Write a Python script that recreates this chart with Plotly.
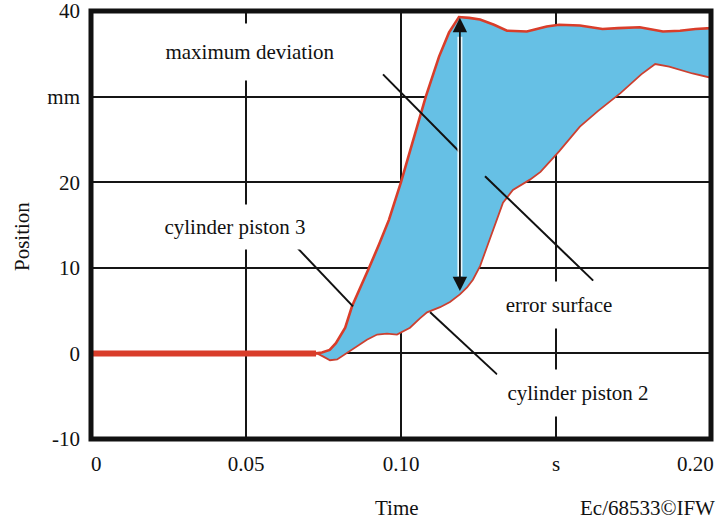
import plotly.graph_objects as go

# ---- data (time in s, position in mm) ----
t_piston3 = [0.0, 0.0726, 0.0745, 0.0770, 0.0790, 0.0820, 0.0842, 0.0870, 0.0897, 0.0930,
             0.0961, 0.1000, 0.1040, 0.1080, 0.1123, 0.1155, 0.1187, 0.1220, 0.1255, 0.1300,
             0.1342, 0.1406, 0.1470, 0.1510, 0.1577, 0.1650, 0.1700, 0.1770, 0.1845, 0.1900,
             0.1950, 0.2000]
v_piston3 = [0.0, 0.0, 0.1, 0.4, 1.2, 3.0, 5.5, 7.7, 10.0, 12.8,
             15.6, 20.0, 25.0, 30.0, 34.7, 37.5, 39.3, 39.2, 39.0, 38.4,
             37.7, 37.6, 38.2, 38.4, 38.3, 37.9, 38.0, 38.1, 37.6, 37.7,
             37.9, 38.0]

t_piston2 = [0.0, 0.0729, 0.0748, 0.0771, 0.0794, 0.0813, 0.0826, 0.0858, 0.0890, 0.0923,
             0.0955, 0.0987, 0.1029, 0.1061, 0.1084, 0.1126, 0.1158, 0.1190, 0.1213, 0.1232,
             0.1255, 0.1277, 0.1297, 0.1329, 0.1361, 0.1416, 0.1450, 0.1510, 0.1577, 0.1635,
             0.1708, 0.1775, 0.1820, 0.1865, 0.1940, 0.2000]
v_piston2 = [0.0, 0.0, -0.35, -0.8, -0.7, -0.25, 0.1, 0.9, 1.6, 2.2,
             2.3, 2.2, 3.0, 4.1, 4.8, 5.4, 6.0, 6.9, 7.7, 8.6,
             10.2, 12.4, 14.5, 17.6, 19.1, 20.3, 21.2, 23.6, 26.5, 28.3,
             30.4, 32.6, 33.8, 33.5, 32.7, 32.2]

x_tickvals = [0.0, 0.05, 0.10, 0.15, 0.20]
x_ticktext = ["\u00a0\u00a00", "0.05", "0.10", "s", "0.20"]
y_tickvals = [-10, 0, 10, 20, 30, 40]
y_ticktext = ["-10", "0", "10", "20", "mm", "40"]

FONT = "Liberation Serif, Times New Roman, serif"
RED = "#D93D2A"
BLUE = "#66C0E5"

fig = go.Figure()

# error surface between the two pistons
fig.add_trace(go.Scatter(
    x=t_piston3 + t_piston2[::-1], y=v_piston3 + v_piston2[::-1],
    fill="toself", fillcolor=BLUE, mode="lines", line=dict(width=0),
    hoverinfo="skip", showlegend=False))

fig.add_trace(go.Scatter(x=t_piston2, y=v_piston2, mode="lines",
                         line=dict(color="#CC4030", width=1.8), showlegend=False,
                         name="cylinder piston 2"))
fig.add_trace(go.Scatter(x=t_piston3, y=v_piston3, mode="lines",
                         line=dict(color=RED, width=2.6), showlegend=False,
                         name="cylinder piston 3"))

# thick common rest segment (both pistons at rest)
rest_t = [t for t, v in zip(t_piston3, v_piston3) if v == 0.0]
rest_v = [0.0 for _ in rest_t]
fig.add_trace(go.Scatter(x=rest_t, y=rest_v, mode="lines",
                         line=dict(color=RED, width=6), showlegend=False))

# leader lines
leaders = [
    (0.0942, 32.6, 0.1190, 23.5),   # maximum deviation
    (0.0648, 13.0, 0.0845, 5.5),    # cylinder piston 3
    (0.1271, 20.7, 0.1620, 8.5),    # error surface
    (0.1094, 4.8, 0.1310, -2.45),   # cylinder piston 2
]
for x0, y0, x1, y1 in leaders:
    fig.add_shape(type="line", x0=x0, y0=y0, x1=x1, y1=y1, xref="x", yref="y",
                  line=dict(color="#111111", width=2), layer="above")

# white halo for arrow shaft
fig.add_shape(type="line", x0=0.1190, y0=37.0, x1=0.1190, y1=9.0, xref="x", yref="y",
              line=dict(color="rgba(255,255,255,0.85)", width=5), layer="above")

# frame
fig.add_shape(type="rect", xref="paper", yref="paper", x0=0, y0=0, x1=1, y1=1,
              line=dict(color="#111111", width=5), layer="above")

# double arrow: maximum deviation
fig.add_annotation(x=0.1190, y=39.2, ax=0.1190, ay=7.1, xref="x", yref="y",
                   axref="x", ayref="y", text="", showarrow=True,
                   arrowhead=2, startarrowhead=2, arrowside="end+start",
                   arrowwidth=1.8, arrowsize=1.6, startarrowsize=1.6, arrowcolor="#111111")

labels = [
    ("maximum deviation", 0.0513, 35.2, 236, 56),
    ("cylinder piston 3", 0.0465, 14.8, 190, 44),
    ("error surface", 0.1510, 5.6, 136, 46),
    ("cylinder piston 2", 0.1571, -4.6, 160, 46),
]
for txt, x, y, w, h in labels:
    fig.add_annotation(x=x, y=y, xref="x", yref="y", text=txt, showarrow=False,
                       xanchor="center", yanchor="middle", width=w, height=h,
                       bgcolor="white", borderpad=0,
                       font=dict(family=FONT, size=21, color="#111111"))

fig.add_annotation(x=(22 - 91) / 620, y=(439 - 237) / 428, xref="paper", yref="paper",
                   text="Position", textangle=-90, showarrow=False,
                   xanchor="center", yanchor="middle",
                   font=dict(family=FONT, size=21, color="#111111"))
fig.add_annotation(x=(397 - 91) / 620, y=(439 - 508) / 428, xref="paper", yref="paper",
                   text="Time", showarrow=False, xanchor="center", yanchor="middle",
                   font=dict(family=FONT, size=21, color="#111111"))
fig.add_annotation(x=(647 - 91) / 620, y=(439 - 508) / 428, xref="paper", yref="paper",
                   text="Ec/68533©IFW", showarrow=False, xanchor="center", yanchor="middle",
                   font=dict(family=FONT, size=21, color="#111111"))

# last x tick label sits flush with the right edge of the picture
fig.add_annotation(x=x_tickvals[-1], y=(439 - 464) / 428, xref="x", yref="paper",
                   text=x_ticktext[-1], showarrow=False, xanchor="right", yanchor="middle",
                   xshift=4, borderpad=0,
                   font=dict(family=FONT, size=21, color="#111111"))
x_axis_text = x_ticktext[:-1] + [""]

fig.update_xaxes(range=[0, 0.2], tickvals=x_tickvals, ticktext=x_axis_text,
                 showgrid=True, gridcolor="#151515", gridwidth=1.6, zeroline=False,
                 showline=False, ticks="", ticklabelstandoff=10, ticklabeloverflow="allow",
                 automargin=False,
                 tickfont=dict(family=FONT, size=21, color="#111111"))
fig.update_yaxes(range=[-10, 40], tickvals=y_tickvals, ticktext=y_ticktext,
                 showgrid=True, gridcolor="#151515", gridwidth=1.6, zeroline=False,
                 showline=False, ticks="", ticklabelstandoff=10, ticklabeloverflow="allow",
                 automargin=False,
                 tickfont=dict(family=FONT, size=21, color="#111111"))

fig.update_layout(width=717, height=521, margin=dict(l=91, r=6, t=11, b=82, autoexpand=False),
                  paper_bgcolor="white", plot_bgcolor="white", showlegend=False)

fig.write_html("out.html", config={"displayModeBar": False},
               post_script="document.body.style.margin='0';document.body.style.overflow='hidden';")
